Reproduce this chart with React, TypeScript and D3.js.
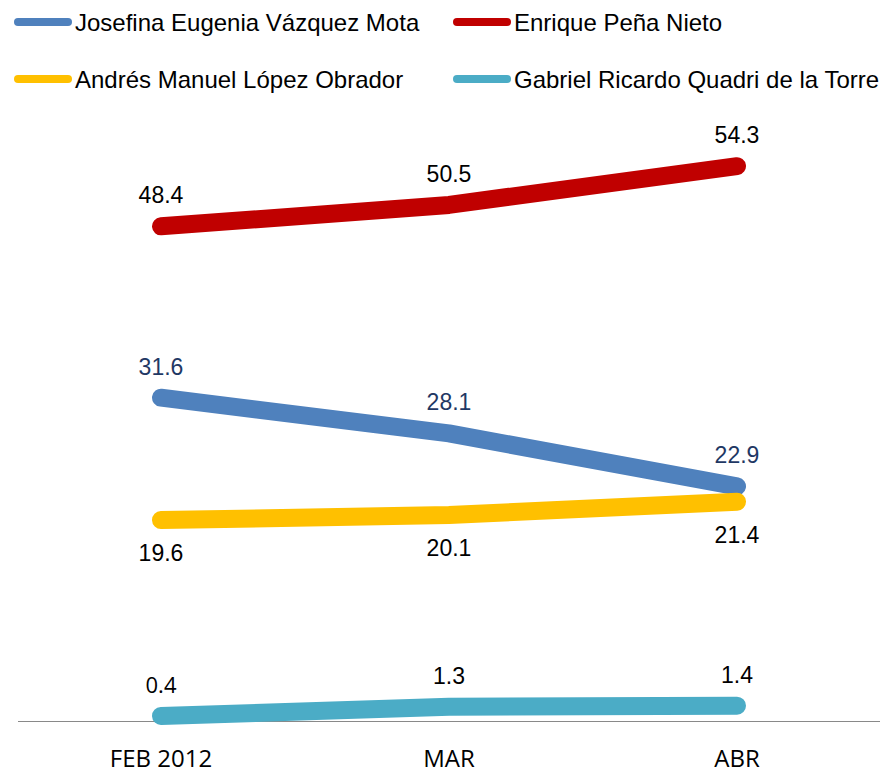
import React from "react";
import * as d3 from "d3";

const months: string[] = ["FEB 2012", "MAR", "ABR"];
const seriesNames: string[] = [
  "Josefina Eugenia Vázquez Mota",
  "Enrique Peña Nieto",
  "Andrés Manuel López Obrador",
  "Gabriel Ricardo Quadri de la Torre",
];
const vazquezMota: number[] = [31.6, 28.1, 22.9];
const penaNieto: number[] = [48.4, 50.5, 54.3];
const lopezObrador: number[] = [19.6, 20.1, 21.4];
const quadri: number[] = [0.4, 1.3, 1.4];

const W = 887;
const H = 771;

const colors = ["#4F81BD", "#C00000", "#FFC000", "#4BACC6"];
const labelColors = ["#1F3864", "#000000", "#000000", "#000000"];
const labelOffsets = [-23, -23, 41, -23];

export default function App() {
  const x = d3.scalePoint<string>().domain(months).range([17, 881]).padding(0.5);
  const y = d3.scaleLinear().domain([0, 60]).range([720, 108]);
  const data = [vazquezMota, penaNieto, lopezObrador, quadri];
  const line = d3
    .line<number>()
    .x((_, i) => x(months[i]) as number)
    .y((d) => y(d));

  const legendPos = [
    { x: 14, y: 22 },
    { x: 453, y: 22 },
    { x: 14, y: 79 },
    { x: 453, y: 79 },
  ];

  return (
    <svg
      width={W}
      height={H}
      style={{ position: "absolute", left: 0, top: 0, background: "#fff" }}
    >
      <rect x={0} y={0} width={W} height={H} fill="#fff" />
      {seriesNames.map((n, i) => (
        <g key={n}>
          <line
            x1={legendPos[i].x + 4}
            x2={legendPos[i].x + 54}
            y1={legendPos[i].y}
            y2={legendPos[i].y}
            stroke={colors[i]}
            strokeWidth={8}
            strokeLinecap="round"
          />
          <text
            x={legendPos[i].x + 61}
            y={legendPos[i].y + 9}
            fontFamily="'Liberation Sans', Arial, sans-serif"
            fontSize={24}
            fill="#000"
          >
            {n}
          </text>
        </g>
      ))}
      <line x1={18} x2={880} y1={721.5} y2={721.5} stroke="#898989" strokeWidth={1.2} />
      {months.map((m) => (
        <text
          key={m}
          x={x(m)}
          y={767}
          textAnchor="middle"
          fontFamily="'Open Sans', sans-serif"
          fontSize={24}
          fill="#000"
        >
          {m}
        </text>
      ))}
      {data.map((s, i) => (
        <path
          key={i}
          d={line(s) || ""}
          fill="none"
          stroke={colors[i]}
          strokeWidth={18}
          strokeLinecap="round"
          strokeLinejoin="round"
        />
      ))}
      {data.map((s, i) =>
        s.map((v, j) => (
          <text
            key={`${i}-${j}`}
            x={x(months[j])}
            y={y(v) + labelOffsets[i]}
            textAnchor="middle"
            fontFamily={
              i === 3 && j === 0
                ? "'Open Sans', sans-serif"
                : "'Liberation Sans', Arial, sans-serif"
            }
            fontSize={i === 3 && j === 0 ? 22 : 23}
            fill={labelColors[i]}
          >
            {v.toFixed(1)}
          </text>
        ))
      )}
    </svg>
  );
}
